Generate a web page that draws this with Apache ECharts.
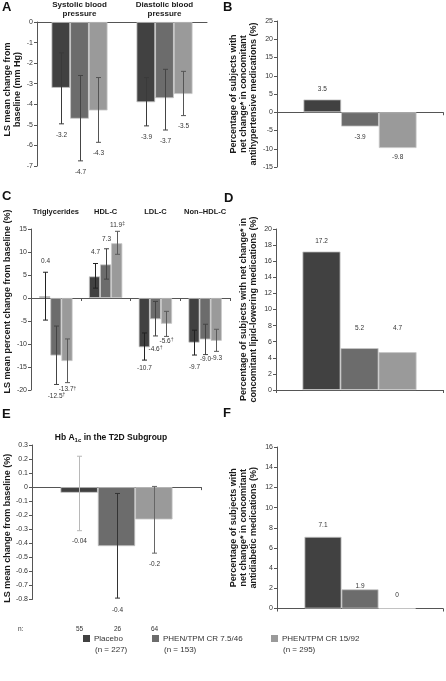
<!DOCTYPE html>
<html><head><meta charset="utf-8">
<script src="https://cdn.jsdelivr.net/npm/echarts@6/dist/echarts.min.js"></script>
<style>html,body{margin:0;padding:0;background:#fff}#c{width:446px;height:681px}</style>
</head><body><div id="c"></div><script>
// ---------- data ----------
const groupNames = ['Placebo', 'PHEN/TPM CR 7.5/46', 'PHEN/TPM CR 15/92'];
const groupN = ['(n = 227)', '(n = 153)', '(n = 295)'];

// A: blood pressure (mm Hg)
const bpCategories = ['Systolic blood\npressure', 'Diastolic blood\npressure'];
const bpMean  = [[-3.2, -3.9], [-4.7, -3.7], [-4.3, -3.5]];
const bpUpper = [[-1.5, -2.7], [-2.6, -2.3], [-2.7, -2.4]];
const bpLower = [[-4.95, -5.05], [-6.75, -5.25], [-5.85, -4.55]];
const bpLabels = [['-3.2', '-3.9'], ['-4.7', '-3.7'], ['-4.3', '-3.5']];

// B: antihypertensive medications (%)
const bpMeds = [3.5, -3.9, -9.8];

// C: lipids (% change)
const lipidCategories = ['Triglycerides', 'HDL-C', 'LDL-C', 'Non\u2013HDL-C'];
const lipidMean  = [[0.4, 4.7, -10.7, -9.7], [-12.5, 7.3, -4.6, -9.0], [-13.7, 11.9, -5.6, -9.3]];
const lipidUpper = [[5.6, 7.5, -7.6, -7.0], [-6.1, 10.7, -0.75, -5.7], [-8.9, 14.5, -2.9, -6.8]];
const lipidLower = [[-4.8, 2.15, -13.5, -12.4], [-18.8, 4.1, -8.25, -12.3], [-18.4, 9.5, -8.35, -11.6]];
const lipidLabels = [['0.4', '4.7', '-10.7', '-9.7'],
                     ['-12.5{s|\u2020}', '7.3', '-4.6{s|\u2020}', '-9.0'],
                     ['-13.7{s|\u2020}', '11.9{s|\u2021}', '-5.6{s|\u2020}', '-9.3']];

// D: lipid-lowering medications (%)
const lipidMeds = [17.2, 5.2, 4.7];

// E: HbA1c in T2D subgroup (%)
const hbMean  = [-0.04, -0.42, -0.23];
const hbUpper = [0.22, -0.045, 0.005];
const hbLower = [-0.31, -0.79, -0.47];
const hbLabels = ['-0.04', '-0.4', '-0.2'];
const hbN = ['55', '26', '64'];

// F: antidiabetic medications (%)
const diabMeds = [7.1, 1.9, 0];

// ---------- styles ----------
const FONT = '"Liberation Sans", Arial, Helvetica, sans-serif';
const barColors = ['#414141', '#6c6c6c', '#9a9a9a'];
const barBorder = '#c6c6c6';
const axisColor = '#555';
const gaps = [0.341, 0.319, 0.33, 0.317, 0.337, 0.331];
const bpLabelGap = [[11, 11], [11, 11], [11, 11]];
const lipidLabelGap = [[11, 11, 8, 12], [12, 10, 13, 5], [7, 6, 5, 7]];
const hbLabelGap = [11, 12, 11];
const bpMedsDist = [7, 7, 6];
const lipidMedsDist = [7, 16, 20];
const diabMedsDist = [8, 0, 9];
const errColorsA = ['#3a3a3a', '#454545', '#555555'];
const errColorsC = ['#222222', '#444444', '#5a5a5a'];
const errColorsE = ['#b8b8b8', '#333333', '#666666'];

const grids = [
  {left: 37, top: 21, width: 170, height: 145},
  {left: 277, top: 21, width: 166, height: 146},
  {left: 31, top: 229, width: 199, height: 161},
  {left: 276, top: 229, width: 167, height: 161},
  {left: 32, top: 445, width: 169, height: 154.5},
  {left: 277, top: 447, width: 166, height: 161.5}
];

function valueAxis(grid, min, max, interval, name, gap, pad) {
  return {
    type: 'value', gridIndex: grid, min: min, max: max, interval: interval,
    name: name, nameLocation: 'middle', nameGap: gap, nameRotate: 90,
    nameTextStyle: {fontSize: 9, fontWeight: 'bold', color: '#1a1a1a', fontFamily: FONT, lineHeight: 10, padding: pad || 0},
    axisLine: {show: true, lineStyle: {color: axisColor, width: 1}},
    axisTick: {show: true, length: 3, lineStyle: {color: axisColor}},
    axisLabel: {fontSize: 7, color: '#333', margin: 4, fontFamily: FONT},
    splitLine: {show: false}
  };
}
function plainCatAxis(grid, data) {
  return {
    type: 'category', gridIndex: grid, data: data,
    axisLine: {onZero: true, lineStyle: {color: axisColor, width: 1}},
    axisTick: {show: true, length: 3, interval: 0, lineStyle: {color: axisColor}},
    axisLabel: {show: false}
  };
}

const xAxes = [
  {type: 'category', gridIndex: 0, data: bpCategories, position: 'top',
   axisLine: {lineStyle: {color: axisColor, width: 1}},
   axisTick: {inside: true, length: 3, interval: 0, lineStyle: {color: axisColor}},
   axisLabel: {interval: 0, fontSize: 8, fontWeight: 'bold', color: '#1a1a1a', margin: 3, lineHeight: 9.5, fontFamily: FONT}},
  plainCatAxis(1, ['']),
  {type: 'category', gridIndex: 2, data: lipidCategories, position: 'top',
   axisLine: {show: false, onZero: false}, axisTick: {show: false},
   axisLabel: {interval: 0, fontSize: 7.5, fontWeight: 'bold', color: '#1a1a1a', margin: 13, fontFamily: FONT}},
  plainCatAxis(2, lipidCategories),
  plainCatAxis(3, ['']),
  plainCatAxis(4, ['']),
  plainCatAxis(5, [''])
];

const yAxes = [
  valueAxis(0, -7, 0, 1, 'LS mean change from\nbaseline (mm Hg)', 13, [0, 0, 0, 9]),
  valueAxis(1, -15, 25, 5, 'Percentage of subjects with\nnet change* in concomitant\nantihypertensive medications (%)', 18),
  valueAxis(2, -20, 15, 5, 'LS mean percent change from baseline (%)', 18.5, [0, 0, 0, 16]),
  valueAxis(3, 0, 20, 2, 'Percentage of subjects with net change* in\nconcomitant lipid-lowering medications (%)', 17),
  valueAxis(4, -0.8, 0.3, 0.1, 'LS mean change from baseline (%)', 18, [0, 12, 0, 0]),
  valueAxis(5, 0, 16, 2, 'Percentage of subjects with\nnet change* in concomitant\nantidiabetic medications (%)', 18)
];

function barSeries(x, y, gi, data, gap, label) {
  return {
    type: 'bar', name: groupNames[gi], xAxisIndex: x, yAxisIndex: y, data: data,
    barGap: '0%', barCategoryGap: (gap * 100) + '%',
    itemStyle: {color: barColors[gi], borderColor: barBorder, borderWidth: 0.8},
    label: label || {show: false}, silent: true, animation: false
  };
}
function valLabel(pos, dist) {
  return {show: true, position: pos, distance: dist, fontSize: 6.5, color: '#333', fontFamily: FONT};
}

function errSeries(x, y, gi, means, upper, lower, labels, gap, color, labelGaps, nText) {
  return {
    type: 'custom', name: 'err_' + x + '_' + gi, xAxisIndex: x, yAxisIndex: y, z: 5, silent: true, animation: false,
    data: means.map((m, k) => [k, lower[k], upper[k], m]),
    encode: {x: 0, y: [1, 2]},
    renderItem: function (params, api) {
      const k = api.value(0);
      const pl = api.coord([k, api.value(1)]);
      const ph = api.coord([k, api.value(2)]);
      const band = api.size([1, 0])[0];
      const bw = band * (1 - gap) / 3;
      const cx = Math.round(pl[0] + (gi - 1) * bw) + 0.5;
      const m = api.value(3);
      const g = labelGaps[params.dataIndex];
      const ty = m >= 0 ? ph[1] - g : pl[1] + g;
      const ls = {stroke: color, lineWidth: 1};
      const children = [
        {type: 'line', shape: {x1: cx, y1: ph[1], x2: cx, y2: pl[1]}, style: ls},
        {type: 'line', shape: {x1: cx - 2.5, y1: ph[1], x2: cx + 2.5, y2: ph[1]}, style: ls},
        {type: 'line', shape: {x1: cx - 2.5, y1: pl[1], x2: cx + 2.5, y2: pl[1]}, style: ls},
        {type: 'text', x: cx, y: ty, style: {
          text: labels[params.dataIndex], fill: '#333', fontSize: 6.5, fontFamily: FONT,
          align: 'center', verticalAlign: 'middle', textAlign: 'center', textVerticalAlign: 'middle',
          rich: {s: {fontSize: 5, fill: '#333', fontFamily: FONT, padding: [0, 0, 3, 0]}}
        }}
      ];
      if (nText) {
        children.push({type: 'text', x: cx, y: params.coordSys.y + params.coordSys.height + 30, style: {
          text: nText, fill: '#333', fontSize: 6.5, fontFamily: FONT,
          align: 'center', verticalAlign: 'middle', textAlign: 'center', textVerticalAlign: 'middle'}});
      }
      return {type: 'group', children: children};
    }
  };
}

const series = [];
for (let gi = 0; gi < 3; gi++) {
  series.push(barSeries(0, 0, gi, bpMean[gi], gaps[0]));
  series.push(barSeries(1, 1, gi, [bpMeds[gi]], gaps[1], valLabel('outside', bpMedsDist[gi])));
  series.push(barSeries(2, 2, gi, lipidMean[gi], gaps[2]));
  series.push(barSeries(4, 3, gi, [lipidMeds[gi]], gaps[3], valLabel('top', lipidMedsDist[gi])));
  series.push(barSeries(5, 4, gi, [hbMean[gi]], gaps[4]));
  series.push(barSeries(6, 5, gi, [diabMeds[gi]], gaps[5], valLabel('top', diabMedsDist[gi])));
}
for (let gi = 0; gi < 3; gi++) {
  series.push(errSeries(0, 0, gi, bpMean[gi], bpUpper[gi], bpLower[gi], bpLabels[gi], gaps[0], errColorsA[gi], bpLabelGap[gi]));
  series.push(errSeries(2, 2, gi, lipidMean[gi], lipidUpper[gi], lipidLower[gi], lipidLabels[gi], gaps[2], errColorsC[gi], lipidLabelGap[gi]));
  series.push(errSeries(5, 4, gi, [hbMean[gi]], [hbUpper[gi]], [hbLower[gi]], [hbLabels[gi]], gaps[4], errColorsE[gi], [hbLabelGap[gi]], hbN[gi]));
}

const legendLefts = [83, 152, 271];
const legends = groupNames.map((nm, i) => ({
  data: [nm], left: legendLefts[i], top: 633, padding: 0, itemWidth: 7, itemHeight: 7, itemGap: 0,
  icon: 'rect', selectedMode: false, itemStyle: {borderWidth: 0},
  textStyle: {fontSize: 8, color: '#333', fontFamily: FONT, lineHeight: 11, padding: [0, 0, 0, -1]}
}));

function txt(x, y, text, size, bold, extra) {
  return Object.assign({type: 'text', x: x, y: y, silent: true, style: Object.assign({
    text: text, fontSize: size, fontWeight: bold ? 'bold' : 'normal', fill: '#111', fontFamily: FONT,
    align: 'left', verticalAlign: 'middle', textAlign: 'left', textVerticalAlign: 'middle'}, extra || {})});
}
const graphics = [
  txt(2, 7.5, 'A', 13, true), txt(223, 7, 'B', 13, true),
  txt(2, 196, 'C', 13, true), txt(224, 198, 'D', 13, true),
  txt(2, 414, 'E', 13, true), txt(223, 413.5, 'F', 13, true),
  txt(111, 438, '{b|Hb A}{sub|1c}{b| in the T2D Subgroup}', 8.5, true, {
    align: 'center', textAlign: 'center',
    rich: {b: {fontSize: 8.5, fontWeight: 'bold', fill: '#111', fontFamily: FONT},
           sub: {fontSize: 6, fontWeight: 'bold', fill: '#111', fontFamily: FONT, padding: [4, 0, 0, 0]}}}),
  txt(18, 629.5, 'n:', 6.5, false, {fill: '#333'})
];
groupN.forEach((t, i) => graphics.push(txt(legendLefts[i] + 12, 650, t, 8, false, {fill: '#333'})));

const chart = echarts.init(document.getElementById('c'), null, {renderer: 'canvas'});
chart.setOption({
  animation: false,
  backgroundColor: '#fff',
  textStyle: {fontFamily: FONT},
  grid: grids,
  xAxis: xAxes,
  yAxis: yAxes,
  legend: legends,
  graphic: graphics,
  series: series
});
</script></body></html>
